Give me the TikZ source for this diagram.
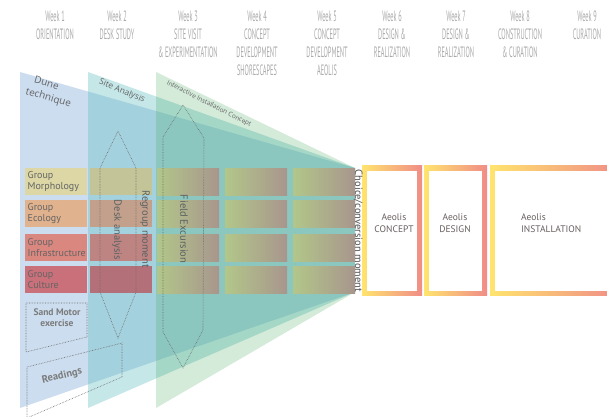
\documentclass[tikz,border=0pt]{standalone}
\usepackage{fontspec}
\setmainfont{PT Sans}
\newfontfamily\hdrfont{PT Sans}[FakeStretch=0.42]
\newfontfamily\lblfont{Open Sans}
\definecolor{hdrgray}{RGB}{170,170,170}
\definecolor{txtgray}{RGB}{100,100,100}
\definecolor{vtxt}{RGB}{90,98,98}
\definecolor{dotgray}{RGB}{105,105,105}
\definecolor{fanblue}{RGB}{150,185,222}
\definecolor{fanteal}{RGB}{87,187,190}
\definecolor{fangreen}{RGB}{40,155,70}
\definecolor{morph1}{RGB}{220,215,165}
\definecolor{ecol1}{RGB}{225,178,142}
\definecolor{infra1}{RGB}{218,135,128}
\definecolor{cult1}{RGB}{202,112,122}
\definecolor{morph2}{RGB}{195,196,152}
\definecolor{ecol2}{RGB}{195,160,140}
\definecolor{infra2}{RGB}{190,132,130}
\definecolor{cult2}{RGB}{180,112,120}
\definecolor{gradL}{RGB}{178,198,138}
\definecolor{gradR}{RGB}{168,150,140}
\definecolor{frameY}{RGB}{255,228,110}
\definecolor{frameR}{RGB}{240,140,135}
\definecolor{boxtxt}{RGB}{105,95,95}
\tikzset{
  hdr/.style={anchor=north, inner sep=0, align=center, text=hdrgray,
    font=\hdrfont\fontsize{15}{18}\selectfont},
  gbox/.style={anchor=north west, minimum width=62, minimum height=27,
    inner sep=2.5, text width=57, align=left, text=txtgray,
    font=\fontsize{10}{11.5}\selectfont},
  gradbox/.style={anchor=north west, minimum width=62, minimum height=27,
    inner sep=0, left color=gradL, right color=gradR},
  vlabel/.style={rotate=-90, inner sep=0, text=vtxt,
    font=\fontsize{10.5}{12}\selectfont},
  fanlabel/.style={inner sep=0, text=txtgray, font=\lblfont},
  dotline/.style={dotgray, densely dotted, line width=0.6pt},
  framebox/.style={anchor=north west, inner sep=0, left color=frameY, right color=frameR},
  innerbox/.style={anchor=north west, inner sep=0, fill=white},
  boxlabel/.style={inner sep=0, align=center, text=boxtxt,
    font=\fontsize{9.5}{12}\selectfont}
}
\begin{document}
\begin{tikzpicture}[x=1pt,y=-1pt]
\useasboundingbox (0,0) rectangle (607,417);
\fill[white] (0,0) rectangle (607,417);

% headers
\node[hdr] (w1) at (55,11) {Week 1\\ORIENTATION};
\node[hdr] (w2) at (117,11) {Week 2\\DESK STUDY};
\node[hdr] (w3) at (188,11) {Week 3\\SITE VISIT\\\& EXPERIMENTATION};
\node[hdr] (w4) at (257,11) {Week 4\\CONCEPT\\DEVELOPMENT\\SHORESCAPES};
\node[hdr] (w5) at (327,11) {Week 5\\CONCEPT\\DEVELOPMENT\\AEOLIS};
\node[hdr] (w6) at (392,11) {Week 6\\DESIGN \&\\REALIZATION};
\node[hdr] (w7) at (456,11) {Week 7\\DESIGN \&\\REALIZATION};
\node[hdr] (w8) at (520,11) {Week 8\\CONSTRUCTION\\\& CURATION};
\node[hdr] (w9) at (587,11) {Week 9\\CURATION};

% fans
\fill[fanblue, opacity=0.48] (20,72) -- (355,168) -- (355,292) -- (20,408) -- cycle;
\fill[fanteal, opacity=0.34] (88,72) -- (355,168) -- (355,292) -- (88,408) -- cycle;
\fill[fangreen, opacity=0.20] (156,72) -- (355,168) -- (355,292) -- (156,408) -- cycle;

% fan labels
\node[fanlabel, rotate=-16, align=left, font=\lblfont\fontsize{10}{13}\selectfont] (dune) at (50,92) {\hspace*{5pt}Dune\\technique};
\node[fanlabel, rotate=-23, font=\lblfont\fontsize{8.5}{10}\selectfont] (site) at (122,91) {Site Analysis};
\node[fanlabel, rotate=-27, font=\lblfont\fontsize{6.5}{8}\selectfont] (inter) at (209,104) {Interactive Installation Concept};

% group boxes column 1
\node[gbox, fill=morph1] (m1) at (25,168) {Group\\Morphology};
\node[gbox, fill=ecol1] (e1) at (25,200) {Group\\Ecology};
\node[gbox, fill=infra1] (i1) at (25,234) {Group\\Infrastructure};
\node[gbox, fill=cult1] (c1) at (25,266) {Group\\Culture};
% column 2
\node[gbox, fill=morph2] (m2) at (90,168) {};
\node[gbox, fill=ecol2] (e2) at (90,200) {};
\node[gbox, fill=infra2] (i2) at (90,234) {};
\node[gbox, fill=cult2] (c2) at (90,266) {};
% columns 3-5
\foreach \cx/\cn in {157/3,225/4,293/5}{
  \node[gradbox] (m\cn) at (\cx,168) {};
  \node[gradbox] (e\cn) at (\cx,200) {};
  \node[gradbox] (i\cn) at (\cx,234) {};
  \node[gradbox] (c\cn) at (\cx,266) {};
}

% dotted shapes
\draw[dotline] (118,131) -- (136,168) -- (136,292) -- (118,338) -- (100,292) -- (100,168) -- cycle;
\draw[dotline] (183,105) -- (204,138) -- (203,330) -- (183,368) -- (163,332) -- (163,137) -- cycle;
\draw[dotline] (26,303) -- (87,303) -- (87,337) -- (26,352) -- cycle;
\draw[dotline] (27,367) -- (122,343) -- (122,377) -- (27,418) -- cycle;

\node[inner sep=0, align=center, text=txtgray!85, font=\bfseries\fontsize{9.5}{11}\selectfont] (sand) at (57,318) {Sand Motor\\exercise};
\node[inner sep=0, rotate=13, text=txtgray!85, font=\bfseries\fontsize{10.5}{12}\selectfont] (read) at (62,376) {Readings};

% vertical labels
\node[vlabel] (desk) at (117,230) {Desk analysis};
\node[vlabel] (regroup) at (145,229) {Regroup moment};
\node[vlabel] (field) at (184,229) {Field Excursion};

% right frames
\node[framebox, minimum width=60, minimum height=130] (f1) at (362,165) {};
\node[innerbox, minimum width=50, minimum height=120] (b1) at (367,170.5) {};
\node[framebox, minimum width=63, minimum height=130] (f2) at (424,165) {};
\node[innerbox, minimum width=53, minimum height=120] (b2) at (429,170.5) {};
\node[framebox, minimum width=130, minimum height=130] (f3) at (490,165) {};
\node[innerbox, minimum width=120, minimum height=120] (b3) at (495,170.5) {};

\node[boxlabel] (t1) at (394,223) {Aeolis\\CONCEPT};
\node[boxlabel] (t2) at (455,223) {Aeolis\\DESIGN};
\node[boxlabel, anchor=west, align=left] (t3) at (521,223) {Aeolis\\INSTALLATION};

\node[vlabel, text=black!68, font=\fontsize{10.5}{12}\selectfont] (choice) at (358,231) {Choice/conversion moment};
\end{tikzpicture}
\end{document}
